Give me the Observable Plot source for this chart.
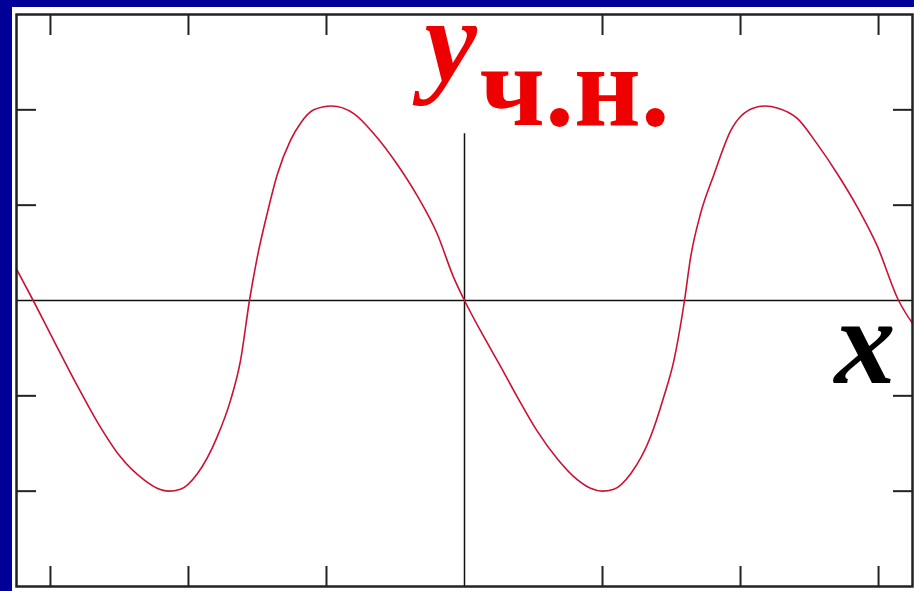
<!DOCTYPE html>
<html>
<head>
<meta charset="utf-8">
<script src="https://cdn.jsdelivr.net/npm/d3@7"></script>
<script src="https://cdn.jsdelivr.net/npm/@observablehq/plot@0.6"></script>
<style>
  html, body { margin: 0; padding: 0; background: #000099; }
  #panel { position: absolute; left: 12px; top: 7px; width: 902px; height: 584px; background: #ffffff; }
  #panel svg { display: block; }
</style>
</head>
<body>
<div id="panel"></div>
<script>
// Particular solution y(x), sampled along two and a bit periods
const curveX = [-3.246, -3.125, -2.976, -2.807, -2.662, -2.493, -2.324, -2.227, -2.145, -2.058,
  -1.937, -1.792, -1.696, -1.623, -1.558, -1.502, -1.430, -1.357, -1.261, -1.188,
  -1.092, -0.964, -0.802, -0.657, -0.488, -0.343, -0.198, -0.078, 0.0, 0.140,
  0.261, 0.382, 0.527, 0.672, 0.817, 0.913, 0.998, 1.082, 1.203, 1.348,
  1.444, 1.517, 1.594, 1.638, 1.710, 1.807, 1.928, 2.096, 2.181, 2.266,
  2.411, 2.556, 2.701, 2.846, 2.991, 3.145, 3.246];
const curveY = [0.33, 0, -0.42, -0.89, -1.27, -1.64, -1.88, -1.97, -2.0, -1.98,
  -1.82, -1.43, -1.05, -0.63, 0, 0.45, 0.91, 1.32, 1.68, 1.86,
  2.0, 2.04, 1.96, 1.75, 1.43, 1.10, 0.70, 0.24, 0, -0.38,
  -0.69, -1.01, -1.37, -1.66, -1.88, -1.97, -2.0, -1.98, -1.82, -1.43,
  -1.01, -0.63, 0, 0.45, 0.91, 1.32, 1.78, 2.02, 2.04, 2.02,
  1.91, 1.64, 1.33, 0.98, 0.57, 0, -0.24];

// Tick positions on the frame
const xTicks = [-3, -2, -1, 1, 2, 3];
const yTicks = [-2, -1, 1, 2];

// Extents of the plot window and of the vertical axis
const xDomain = [-3.246, 3.246];
const yDomain = [-3, 3];
const yAxisTop = 1.75;

// Axis captions
const yName = "y";
const ySub = "ч.н.";
const xName = "x";

const serif = "Liberation Serif";

const points = curveX.map((x, i) => ({x, y: curveY[i]}));

// Inward-pointing ticks, no tick labels
const tickStyle = {tickSize: -20, tickFormat: () => "", label: null, stroke: "#222", strokeWidth: 2};

const chart = Plot.plot({
  width: 902,
  height: 584,
  marginLeft: 4,
  marginTop: 7,
  marginRight: 2,
  marginBottom: 5,
  x: {domain: xDomain},
  y: {domain: yDomain},
  style: {background: "transparent", overflow: "visible"},
  marks: [
    Plot.axisX(xTicks, {anchor: "top", ...tickStyle}),
    Plot.axisX(xTicks, {anchor: "bottom", ...tickStyle}),
    Plot.axisY(yTicks, {anchor: "left", ...tickStyle}),
    Plot.axisY(yTicks, {anchor: "right", ...tickStyle}),
    Plot.ruleY([0], {stroke: "#111", strokeWidth: 1.5}),
    Plot.ruleX([0], {y1: yDomain[0], y2: yAxisTop, stroke: "#111", strokeWidth: 1.5}),
    Plot.line(points, {x: "x", y: "y", stroke: "#cc1133", strokeWidth: 1.6, curve: "monotone-x"}),
    Plot.frame({stroke: "#222", strokeWidth: 2.5}),
    Plot.text([yName], {x: () => 0, frameAnchor: "top", text: d => d, textAnchor: "start", lineAnchor: "bottom",
      dx: -40, dy: 66, fontFamily: serif, fontStyle: "italic", fontWeight: "bold", fontSize: 118, fill: "#ee0000"}),
    Plot.text([ySub], {x: () => 0, frameAnchor: "top", text: d => d, textAnchor: "start", lineAnchor: "bottom",
      dx: 15, dy: 110, fontFamily: serif, fontWeight: "bold", fontSize: 116, fill: "#ee0000"}),
    Plot.text([xName], {y: () => 0, frameAnchor: "right", text: d => d, textAnchor: "start", lineAnchor: "bottom",
      dx: -78, dy: 82, fontFamily: serif, fontStyle: "italic", fontWeight: "bold", fontSize: 122, fill: "#000000"})
  ]
});

document.getElementById("panel").appendChild(chart);
</script>
</body>
</html>
